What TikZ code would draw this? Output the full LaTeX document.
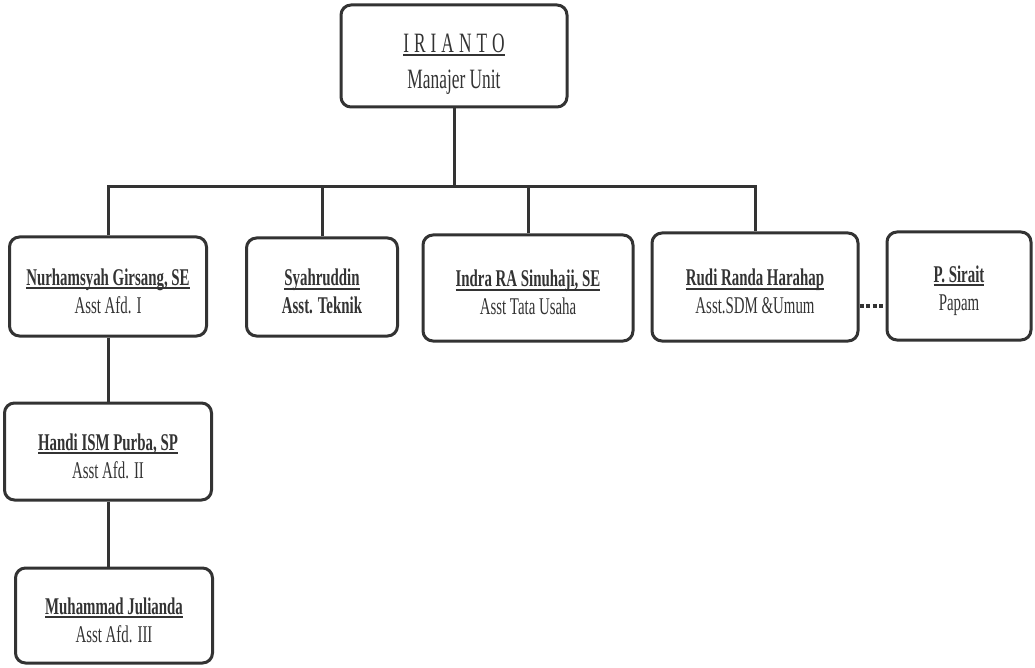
\documentclass[tikz,border=0pt]{standalone}
\usepackage{fontspec}
\setmainfont{Liberation Serif}[FakeStretch=0.62]
\definecolor{ink}{HTML}{333333}
\newcommand{\ulname}[1]{\setbox0=\hbox{#1}\rlap{\color{ink}\rule[-4pt]{\wd0}{2pt}}\box0}
\newcommand{\topstrut}[1]{\rule{0pt}{#1}}
\begin{document}
\begin{tikzpicture}[x=1pt,y=-1pt,
  box/.style={draw=ink, line width=3pt, rounded corners=10pt, align=center, text=ink,
              font=\fontsize{24}{28}\selectfont, inner sep=0pt},
  conn/.style={draw=ink, line width=3pt},
  dots/.style={draw=ink, line width=4pt, dash pattern=on 4pt off 2.5pt}]
\useasboundingbox (0,0) rectangle (1035,668);
\fill[white] (0,0) rectangle (1035,668);

\node[box, minimum width=226pt, minimum height=102pt, font=\fontsize{28}{36}\selectfont] (top) at (454,56)
  {\topstrut{34pt}\ulname{I\hspace{5pt}R\hspace{5pt}I\hspace{5pt}A\hspace{5pt}N\hspace{5pt}T\hspace{5pt}O}\\Manajer Unit};

\node[box, minimum width=197pt, minimum height=99pt] (n1) at (108,286.5)
  {\topstrut{26pt}\ulname{\textbf{Nurhamsyah Girsang, SE}}\\Asst Afd. I};
\node[box, minimum width=151pt, minimum height=98pt] (n2) at (322,287)
  {\topstrut{26pt}\ulname{\textbf{Syahruddin}}\\\textbf{Asst. Teknik}};
\node[box, minimum width=210pt, minimum height=106pt] (n3) at (528,288)
  {\topstrut{26pt}\ulname{\textbf{Indra RA Sinuhaji, SE}}\\Asst Tata Usaha};
\node[box, minimum width=206pt, minimum height=108pt] (n4) at (755,287)
  {\topstrut{26pt}\ulname{\textbf{Rudi Randa Harahap}}\\Asst.SDM \&Umum};
\node[box, minimum width=144pt, minimum height=108pt] (n5) at (959,286)
  {\topstrut{26pt}\ulname{\textbf{P. Sirait}}\\Papam};

\node[box, minimum width=207pt, minimum height=97pt] (n6) at (108,451.5)
  {\topstrut{26pt}\ulname{\textbf{Handi ISM Purba, SP}}\\Asst Afd. II};
\node[box, minimum width=197pt, minimum height=95pt] (n7) at (114,615.5)
  {\topstrut{26pt}\ulname{\textbf{Muhammad Julianda}}\\Asst Afd. III};

\coordinate (bus) at (454,187);
\draw[conn] (top.south) -- (bus);
\draw[conn] (n1.north) |- (n4.north |- bus) -- (n4.north);
\draw[conn] (n2.north) -- (n2.north |- bus);
\draw[conn] (n3.north) -- (n3.north |- bus);
\draw[conn] (n1.south) -- (n6.north);
\draw[conn] (n6.south) -- (n6.south |- n7.north);
\draw[dots] ([yshift=-19pt]n4.east) -- ([yshift=-19pt]n4.east -| n5.west);
\end{tikzpicture}
\end{document}
